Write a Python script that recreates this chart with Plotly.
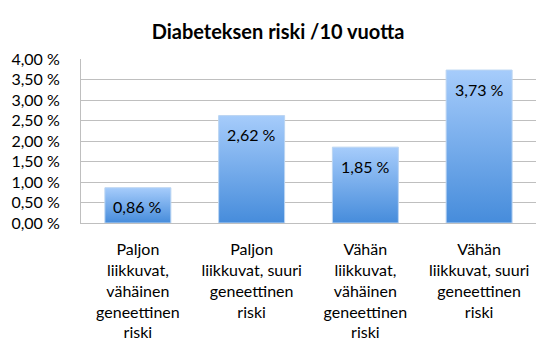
import plotly.graph_objects as go

categories = [
    "Paljon<br>liikkuvat,<br>vähäinen<br>geneettinen<br>riski",
    "Paljon<br>liikkuvat, suuri<br>geneettinen<br>riski",
    "Vähän<br>liikkuvat,<br>vähäinen<br>geneettinen<br>riski",
    "Vähän<br>liikkuvat, suuri<br>geneettinen<br>riski",
]
values = [0.86, 2.62, 1.85, 3.73]
value_labels = ["0,86 %", "2,62 %", "1,85 %", "3,73 %"]
y_tickvals = [0, 0.5, 1.0, 1.5, 2.0, 2.5, 3.0, 3.5, 4.0]
y_ticktext = ["0,00 %", "0,50 %", "1,00 %", "1,50 %", "2,00 %", "2,50 %", "3,00 %", "3,50 %", "4,00 %"]

FONT = "Lato, 'Open Sans', sans-serif"
bar_w = 0.58
positions = list(range(len(values)))

# the page body adds an 8px offset, so the figure is sized to fit the window
W, H = 552, 347

fig = go.Figure()

# gradient-filled bars (one polygon per bar, built from the data)
for i, v in zip(positions, values):
    fig.add_trace(go.Scatter(
        x=[i - bar_w / 2, i + bar_w / 2, i + bar_w / 2, i - bar_w / 2, i - bar_w / 2],
        y=[0, 0, v, v, 0],
        mode="lines",
        fill="toself",
        fillgradient=dict(
            type="vertical",
            colorscale=[[0, "#468CDB"], [1, "#A6CCFB"]],
        ),
        line=dict(color="#BBD5F2", width=1),
        hoverinfo="skip",
        showlegend=False,
    ))

# value labels, just under each bar top
annotations = [
    dict(
        x=i, y=v, xref="x", yref="y",
        text=lbl, showarrow=False,
        yanchor="middle", xanchor="center", yshift=-19,
        font=dict(family=FONT, size=16, color="#000000"),
    )
    for i, v, lbl in zip(positions, values, value_labels)
]

fig.update_layout(
    width=W,
    height=H,
    paper_bgcolor="white",
    plot_bgcolor="white",
    margin=dict(l=73, r=24, t=51, b=132, autoexpand=False),
    title=dict(
        text="<b>Diabeteksen riski /10 vuotta</b>",
        x=270 / W, xanchor="center",
        y=1 - 24 / H, yanchor="middle",
        font=dict(family=FONT, size=20, color="#000000"),
    ),
    font=dict(family=FONT, color="#000000"),
    annotations=annotations,
)

fig.update_xaxes(
    range=[-0.5, 3.5],
    tickvals=positions,
    ticktext=categories,
    tickfont=dict(family=FONT, size=16, color="#000000"),
    showgrid=False,
    zeroline=False,
    showline=True,
    linecolor="#BFBFBF",
    linewidth=1,
    ticks="",
    ticklabelstandoff=12,
    automargin=False,
    fixedrange=True,
)

fig.update_yaxes(
    range=[0, 4.0],
    tickvals=y_tickvals,
    ticktext=y_ticktext,
    tickfont=dict(family=FONT, size=16, color="#000000"),
    showgrid=True,
    gridcolor="#BFBFBF",
    gridwidth=1,
    zeroline=False,
    showline=True,
    linecolor="#BFBFBF",
    linewidth=1,
    ticks="",
    ticklabelstandoff=17,
    automargin=False,
    fixedrange=True,
)

fig.write_html("out.html")
